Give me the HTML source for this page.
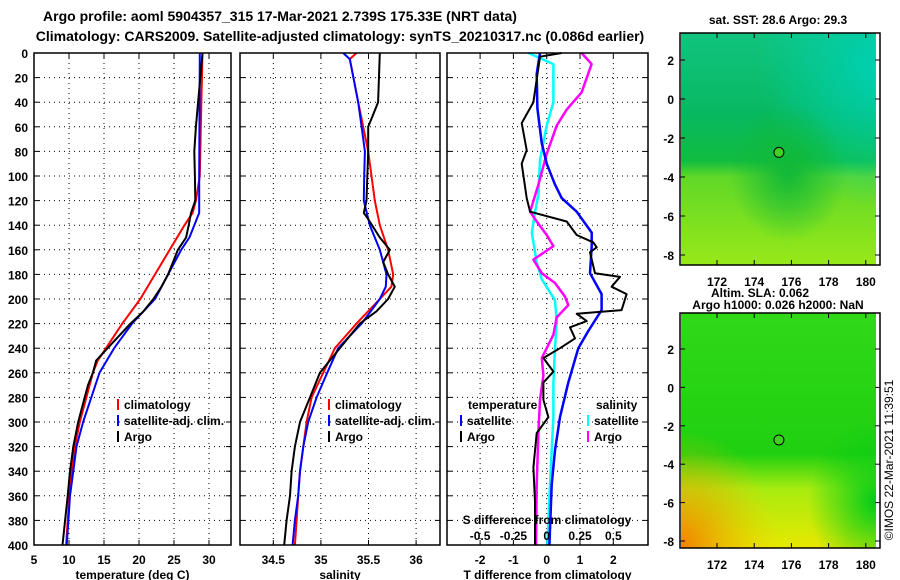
<!DOCTYPE html>
<html><head><meta charset="utf-8"><style>
body{margin:0;background:#fff}
svg{display:block;font-family:"Liberation Sans",sans-serif;font-weight:bold}
</style></head><body>
<svg id="c" width="900" height="580" viewBox="0 0 900 580">
<defs>
<linearGradient id="m1a" x1="0" y1="0" x2="0" y2="1">
<stop offset="0" stop-color="#10c480"/><stop offset="0.35" stop-color="#08b860"/><stop offset="0.55" stop-color="#10bc40"/><stop offset="0.62" stop-color="#60d828"/><stop offset="1" stop-color="#98e818"/></linearGradient>
<radialGradient id="m1b" cx="1" cy="0.15" r="0.6"><stop offset="0" stop-color="#00d0b0"/><stop offset="1" stop-color="#00d0b0" stop-opacity="0"/></radialGradient>
<radialGradient id="m1c" cx="0.55" cy="0.6" r="0.3"><stop offset="0" stop-color="#10b838"/><stop offset="1" stop-color="#10b838" stop-opacity="0"/></radialGradient>
<linearGradient id="m2a" x1="0" y1="0" x2="0" y2="1">
<stop offset="0" stop-color="#30d818"/><stop offset="0.6" stop-color="#20d010"/><stop offset="0.75" stop-color="#a8ec10"/><stop offset="1" stop-color="#e8e800"/></linearGradient>
<radialGradient id="m2b" cx="0" cy="1" r="0.5"><stop offset="0" stop-color="#f08000"/><stop offset="1" stop-color="#f0c000" stop-opacity="0"/></radialGradient>
<radialGradient id="m2c" cx="1" cy="0.8" r="0.35"><stop offset="0" stop-color="#00cc18"/><stop offset="1" stop-color="#00cc18" stop-opacity="0"/></radialGradient>
</defs>
<g id="root"></g>
</svg>
<script>
// ---- data ----
const depthTicks=[0,20,40,60,80,100,120,140,160,180,200,220,240,260,280,300,320,340,360,380,400];
const tempTicks=[5,10,15,20,25,30];
const salTicks=[34.5,35,35.5,36];
const tdiffTicks=[-2,-1,0,1,2];
const sdiffTicks=[-0.5,-0.25,0,0.25,0.5];
const sdiffLabels=["-0.5","-0.25","0","0.25","0.5"];
const tArgoDep=[0,60,80,100,120,130,140,150,160,170,180,190,200,210,220,230,240,250,260,270,280,300,320,340,360,380,400];
const tArgo=[29.07,28.13,27.9,27.99,28.04,27.43,27.1,26.73,25.56,24.86,24.16,23.22,22.06,20.65,18.79,17.15,15.51,13.88,13.41,12.71,12.24,11.31,10.61,10.14,9.81,9.44,9.07];
const tClimDep=[0,60,100,120,130,140,160,180,200,220,240,250,260,280,300,320,340,360,380,400];
const tClim=[29.07,28.83,28.69,28.13,27.66,26.5,24.39,22.29,20.19,17.62,15.28,14.11,13.41,12.48,11.54,10.84,10.37,10.05,9.81,9.58];
const tSatDep=[0,100,130,140,150,160,180,200,220,240,260,280,300,320,340,360,380,400];
const tSat=[28.69,28.6,28.6,27.9,27.2,26.03,24.16,22.29,19.02,16.45,14.35,13.18,12.01,11.07,10.61,10.14,9.91,9.67];
const sArgoDep=[0,40,50,60,80,120,130,135,150,160,170,180,190,200,210,220,240,260,280,300,320,340,360,380,400];
const sArgo=[35.619,35.601,35.549,35.497,35.497,35.479,35.451,35.497,35.619,35.724,35.654,35.706,35.776,35.706,35.584,35.409,35.199,34.99,34.885,34.78,34.727,34.692,34.675,34.64,34.615];
const sClimDep=[0,5,40,60,80,100,120,140,160,180,190,200,220,240,260,280,300,320,340,360,380,400];
const sClim=[35.374,35.304,35.392,35.444,35.497,35.531,35.566,35.619,35.706,35.759,35.741,35.619,35.374,35.147,35.024,34.902,34.85,34.815,34.78,34.762,34.745,34.727];
const sSatDep=[0,5,40,60,80,100,120,140,160,180,190,200,220,240,260,280,300,320,340,360,380,400];
const sSat=[35.234,35.304,35.392,35.427,35.462,35.455,35.451,35.514,35.619,35.689,35.682,35.619,35.427,35.182,35.066,34.955,34.867,34.815,34.78,34.762,34.727,34.703];
const dArgoTdep=[0,3,40,57,79,90,118,129,137,148,154,158,162,179,182,190,196,209,212,218,223,232,240,248,259,268,282,296,309,337,365,400];
const dArgoT=[0.45,-0.2,-0.4,-0.75,-0.6,-0.75,-0.6,-0.5,0.6,0.9,1.4,1.5,1.3,1.45,2.2,1.95,2.4,2.25,0.9,1.2,0.7,0.85,0.4,-0.1,0.2,-0.1,-0.1,0.05,-0.3,-0.4,-0.35,-0.35];
const dSatTdep=[0,17,45,73,90,107,118,129,146,157,179,196,209,226,240,268,296,323,351,400];
const dSatT=[-0.2,-0.3,-0.28,-0.15,0,0.25,0.45,0.9,1.35,1.35,1.3,1.65,1.65,1.25,0.95,0.65,0.4,0.25,0.15,0.08];
const dSatSdep=[0,9,40,59,87,115,129,146,170,184,201,218,240,268,296,351,400];
const dSatS=[-0.137,0.05,0.05,0,-0.05,-0.062,-0.087,-0.112,-0.075,-0.037,0.062,0.075,0.062,0.05,0.05,0.025,0.005];
const dArgoSdep=[0,9,32,46,59,82,107,129,137,148,157,168,179,187,198,205,215,229,248,262,282,309,351,400];
const dArgoS=[0.262,0.337,0.262,0.15,0.075,0,-0.062,-0.125,-0.075,0,0.05,-0.1,-0.037,0.062,0.137,0.162,0.075,0.05,-0.037,-0.025,-0.05,-0.062,-0.075,-0.08];
const mapLonTicks=[172,174,176,178,180];
const mapLatTicks=[2,0,-2,-4,-6,-8];
const floatLon=175.33, floatLat=-2.739;
// ---- helpers ----
const NS="http://www.w3.org/2000/svg";
const root=document.getElementById('root');
function mk(tag,at,parent){const e=document.createElementNS(NS,tag);for(const k in at)e.setAttribute(k,at[k]);(parent||root).appendChild(e);return e;}
function txt(x,y,s,size,anchor,name){const t=mk('text',{x:x,y:y,'font-size':size,'text-anchor':anchor||'middle',fill:'#000'});t.textContent=s;


return t;}
const Y=d=>53+d*1.23;
const panels=[
 {x0:34,x1:231,f:v=>34+(v-5)*7,ticks:tempTicks,name:'temperature-panel',label:'temperature (deg C)'},
 {x0:240,x1:440,f:v=>273.3+(v-34.5)*95.2,ticks:salTicks,name:'salinity-panel',label:'salinity'},
 {x0:447,x1:648,f:v=>546.7+v*33.3,ticks:tdiffTicks,name:'difference-panel',label:'T difference from climatology'}];
const fS=v=>546.7+v*133.2;
function line(xs,ds,fx,color,w,name,g){const p=xs.map((v,i)=>(fx(v)).toFixed(1)+','+Y(ds[i]).toFixed(1)).join(' ');
const l=mk('polyline',{points:p,fill:'none',stroke:color,'stroke-width':w,'stroke-linejoin':'round'},g);

}
// titles
txt(280,21,'Argo profile: aoml 5904357_315 17-Mar-2021 2.739S 175.33E (NRT data)',14,'middle','title-line-1');
txt(340,41,'Climatology: CARS2009. Satellite-adjusted climatology: synTS_20210317.nc (0.086d earlier)',14,'middle','title-line-2');
panels.forEach((P,pi)=>{
 const g=mk('g',{});
 
 
 depthTicks.forEach(d=>{ if(d>0&&d<400) mk('line',{x1:P.x0,x2:P.x1,y1:Y(d),y2:Y(d),stroke:'#000','stroke-width':1,'stroke-dasharray':'1,4'},g);
   mk('line',{x1:P.x0,x2:P.x0+5,y1:Y(d),y2:Y(d),stroke:'#000'},g);mk('line',{x1:P.x1-5,x2:P.x1,y1:Y(d),y2:Y(d),stroke:'#000'},g);
   if(pi==0) txt(28,Y(d)+5,String(d),12,'end','depth-tick-label');});
 P.ticks.forEach(v=>{const x=P.f(v);mk('line',{x1:x,x2:x,y1:53,y2:545,stroke:'#000','stroke-dasharray':'1,4'},g);
   mk('line',{x1:x,x2:x,y1:540,y2:545,stroke:'#000'},g);mk('line',{x1:x,x2:x,y1:53,y2:58,stroke:'#000'},g);
   txt(x,564,String(v),12,'middle','x-tick-label');});
 txt((P.x0+P.x1)/2,579,P.label,12,'middle','x-axis-title');
 if(pi==0){line(tClim,tClimDep,P.f,'#f00',2,'climatology-temperature',g);line(tSat,tSatDep,P.f,'#00f',2,'satellite-temperature',g);line(tArgo,tArgoDep,P.f,'#000',2,'argo-temperature',g);}
 if(pi==1){line(sClim,sClimDep,P.f,'#f00',2,'climatology-salinity',g);line(sSat,sSatDep,P.f,'#00f',2,'satellite-salinity',g);line(sArgo,sArgoDep,P.f,'#000',2,'argo-salinity',g);}
 if(pi==2){line(dSatS,dSatSdep,fS,'#0ff',2.5,'satellite-salinity-diff',g);line(dArgoS,dArgoSdep,fS,'#f0f',2.5,'argo-salinity-diff',g);
   line(dSatT,dSatTdep,P.f,'#00f',2.5,'satellite-temperature-diff',g);line(dArgoT,dArgoTdep,P.f,'#000',2,'argo-temperature-diff',g);
   sdiffTicks.forEach((v,i)=>txt(fS(v),540,sdiffLabels[i],12,'middle','s-diff-tick-label'));
   txt(547,524,'S difference from climatology',12,'middle','s-diff-axis-title');}
 mk('rect',{x:P.x0,y:53,width:P.x1-P.x0,height:492,fill:'none',stroke:'#000','stroke-width':1.5},g);
});
// legends
function leg(x,y,color,label,name){mk('rect',{x:x,y:y-10,width:2,height:11,fill:color});txt(x+7,y,label,12,'start',name);}
[[117,0],[328,1]].forEach(([x])=>{leg(x,409,'#f00','climatology','legend-climatology');leg(x,425,'#00f','satellite-adj. clim.','legend-satellite-adj');leg(x,441,'#000','Argo','legend-argo');});
txt(468,409,'temperature',12,'start','legend-temperature-header');txt(596,409,'salinity',12,'start','legend-salinity-header');
leg(460,425,'#00f','satellite','legend-t-satellite');leg(460,441,'#000','Argo','legend-t-argo');
leg(587,425,'#0ff','satellite','legend-s-satellite');leg(587,441,'#f0f','Argo','legend-s-argo');
// maps
function map(y0,y1,lat2y,latStep,grads,name,labelY,titles){
 const g=mk('g',{});
 
 
 grads.forEach(gr=>mk('rect',{x:681,y:y0,width:195,height:y1-y0,fill:'url(#'+gr+')'},g));
 const lx=v=>717+(v-172)*18.6, ly=v=>lat2y+(2-v)*latStep;
 mk('circle',{cx:lx(floatLon),cy:ly(floatLat),r:5,fill:'#40d020',stroke:'#000'},g);
 mk('rect',{x:680,y:y0,width:200,height:y1-y0,fill:'none',stroke:'#000','stroke-width':1.5},g);
 mapLonTicks.forEach(v=>{mk('line',{x1:lx(v),x2:lx(v),y1:y1-5,y2:y1,stroke:'#000'},g);mk('line',{x1:lx(v),x2:lx(v),y1:y0,y2:y0+5,stroke:'#000'},g);txt(lx(v),labelY,String(v),12,'middle','map-lon-label');});
 mapLatTicks.forEach(v=>{mk('line',{x1:680,x2:685,y1:ly(v),y2:ly(v),stroke:'#000'},g);mk('line',{x1:875,x2:880,y1:ly(v),y2:ly(v),stroke:'#000'},g);txt(674,ly(v)+5,String(v),12,'end','map-lat-label');});
 titles.forEach(t=>txt(t[0],t[1],t[2],12,'middle','map-title'));
}
map(33,265,60,19.5,['m1a','m1b','m1c'],'sst-map',286,[[778,24,'sat. SST: 28.6 Argo: 29.3']]);
map(313,548,349,19.2,['m2a','m2b','m2c'],'sla-map',569,[[760,297,'Altim. SLA: 0.062'],[778,309,'Argo h1000: 0.026 h2000: NaN']]);
const cp=txt(0,0,'©IMOS 22-Mar-2021 11:39:51',12,'middle','timestamp');cp.setAttribute('transform','translate(893,460) rotate(-90)');cp.setAttribute('font-weight','normal');
</script>
</body></html>
